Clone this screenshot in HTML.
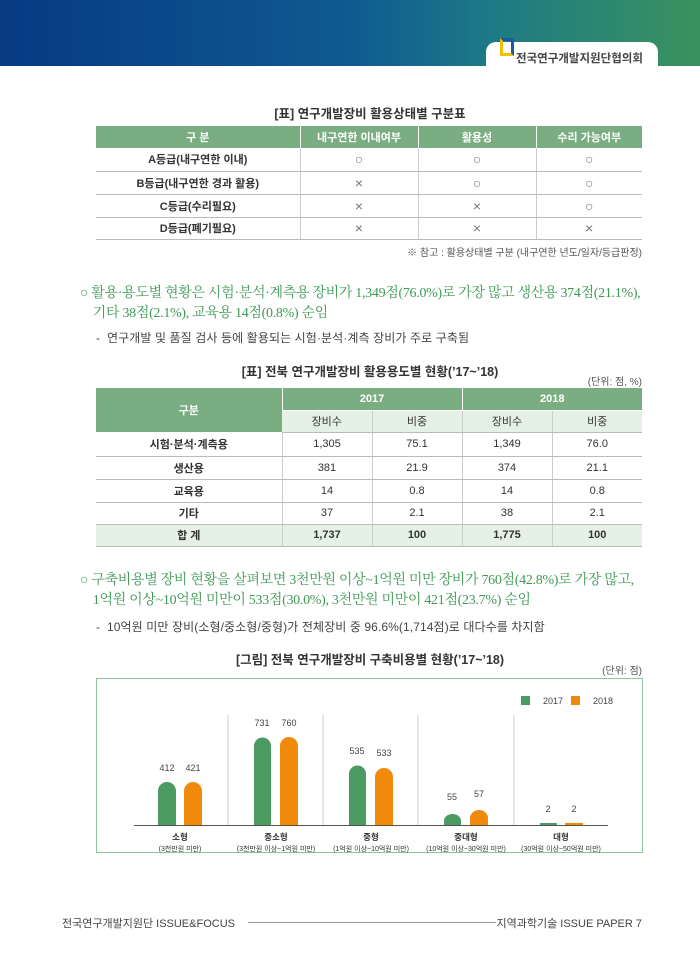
<!DOCTYPE html>
<html><head><meta charset="utf-8"><style>
*{margin:0;padding:0;box-sizing:border-box}
body{width:700px;height:972px;position:relative;background:#fff;font-family:"Liberation Sans","Noto Sans CJK KR",sans-serif;color:#333;overflow:hidden}
.a{position:absolute;white-space:nowrap}
.hdr{position:absolute;left:0;top:0;width:700px;height:66px;background:linear-gradient(90deg,#063a82 0%,#0f5a92 50%,#1d7a86 70%,#3a925e 100%)}
.tab{position:absolute;left:486px;top:42px;width:172px;height:26px;background:#fff;border-radius:10px 10px 0 0}
table{position:absolute;border-collapse:collapse;font-size:11px;text-align:center}
td,th{border-bottom:1px solid #bbb;border-left:1px solid #ccc;padding:0}
td:first-child,th:first-child{border-left:none}
th{background:#7aae82;color:#fff;font-weight:bold;border-left:1px solid #fff;border-bottom:none}
.b{font-weight:bold;color:#333}
.o{font-size:14px;color:#777}
.para{font-family:"Liberation Serif","Noto Serif CJK SC",serif;color:#3f9a55;font-size:14px;line-height:20px;letter-spacing:-0.3px}
.dash{font-size:12px;color:#444;letter-spacing:0.1px}
.cap{font-size:12.5px;font-weight:bold;color:#333}
.sm{font-size:10px;color:#555}
</style></head><body>
<div class="hdr"></div>
<div class="tab"></div>
<div class="a" style="left:500px;top:38px;width:14px;height:18px;border:3px solid #f2c200;border-right-color:#1c5aa6;border-top-color:#1c5aa6"></div>
<div class="a" style="left:516px;top:50px;font-size:11.5px;color:#444;font-weight:bold">전국연구개발지원단협의회</div>

<div class="a cap" style="left:0;width:740px;text-align:center;top:103px">[표] 연구개발장비 활용상태별 구분표</div>
<table style="left:96px;top:126px;width:546px">
<tr style="height:22px"><th style="width:204px">구 분</th><th style="width:118px">내구연한 이내여부</th><th style="width:118px">활용성</th><th style="width:106px">수리 가능여부</th></tr>
<tr style="height:23px"><td class="b">A등급(내구연한 이내)</td><td class="o">○</td><td class="o">○</td><td class="o">○</td></tr>
<tr style="height:23px"><td class="b">B등급(내구연한 경과 활용)</td><td class="o">×</td><td class="o">○</td><td class="o">○</td></tr>
<tr style="height:23px"><td class="b">C등급(수리필요)</td><td class="o">×</td><td class="o">×</td><td class="o">○</td></tr>
<tr style="height:22px"><td class="b">D등급(폐기필요)</td><td class="o">×</td><td class="o">×</td><td class="o">×</td></tr>
</table>
<div class="a sm" style="right:58px;top:244px">※ 참고 : 활용상태별 구분 (내구연한 년도/일자/등급판정)</div>

<div class="a para" style="left:80px;top:284px">○ 활용·용도별 현황은 시험·분석·계측용 장비가 1,349점(76.0%)로 가장 많고 생산용 374점(21.1%),<br>&nbsp;&nbsp;&nbsp;&nbsp;기타 38점(2.1%), 교육용 14점(0.8%) 순임</div>
<div class="a dash" style="left:96px;top:329px">-&nbsp; 연구개발 및 품질 검사 등에 활용되는 시험·분석·계측 장비가 주로 구축됨</div>

<div class="a cap" style="left:0;width:740px;text-align:center;top:361px">[표] 전북 연구개발장비 활용용도별 현황(’17~’18)</div>
<div class="a sm" style="right:58px;top:373px">(단위: 점, %)</div>
<table style="left:96px;top:388px;width:546px">
<tr style="height:22px"><th rowspan="2" style="width:186px">구분</th><th colspan="2" style="border-bottom:1px solid #fff">2017</th><th colspan="2" style="border-bottom:1px solid #fff">2018</th></tr>
<tr style="height:22px"><td style="background:#e6f1e6;width:90px">장비수</td><td style="background:#e6f1e6;width:90px">비중</td><td style="background:#e6f1e6;width:90px">장비수</td><td style="background:#e6f1e6;width:90px">비중</td></tr>
<tr style="height:24px"><td class="b">시험·분석·계측용</td><td>1,305</td><td>75.1</td><td>1,349</td><td>76.0</td></tr>
<tr style="height:23px"><td class="b">생산용</td><td>381</td><td>21.9</td><td>374</td><td>21.1</td></tr>
<tr style="height:23px"><td class="b">교육용</td><td>14</td><td>0.8</td><td>14</td><td>0.8</td></tr>
<tr style="height:22px"><td class="b">기타</td><td>37</td><td>2.1</td><td>38</td><td>2.1</td></tr>
<tr style="height:22px;background:#e6f1e6" class="b"><td>합 계</td><td>1,737</td><td>100</td><td>1,775</td><td>100</td></tr>
</table>

<div class="a para" style="left:80px;top:571px">○ 구축비용별 장비 현황을 살펴보면 3천만원 이상~1억원 미만 장비가 760점(42.8%)로 가장 많고,<br>&nbsp;&nbsp;&nbsp;&nbsp;1억원 이상~10억원 미만이 533점(30.0%), 3천만원 미만이 421점(23.7%) 순임</div>
<div class="a dash" style="left:96px;top:618px">-&nbsp; 10억원 미만 장비(소형/중소형/중형)가 전체장비 중 96.6%(1,714점)로 대다수를 차지함</div>

<div class="a cap" style="left:0;width:740px;text-align:center;top:649px">[그림] 전북 연구개발장비 구축비용별 현황(’17~’18)</div>
<div class="a sm" style="right:58px;top:662px">(단위: 점)</div>

<svg class="a" style="left:96px;top:678px" width="547" height="175" viewBox="96 678 547 175">
<rect x="96.5" y="678.5" width="546" height="174" fill="#fff" stroke="#8cc79a"/>
<g stroke="#ccc"><line x1="228" y1="715" x2="228" y2="825"/><line x1="323" y1="715" x2="323" y2="825"/><line x1="418" y1="715" x2="418" y2="825"/><line x1="514" y1="715" x2="514" y2="825"/></g>
<g fill="#4a9a62">
<path d="M158 825V791a9 9 0 0 1 18 0V825z"/>
<path d="M254 825V746a8.5 8.5 0 0 1 17 0V825z"/>
<path d="M349 825V774a8.5 8.5 0 0 1 17 0V825z"/>
<path d="M444 825V821a8.5 7 0 0 1 17 0V825z"/>
<rect x="540" y="823" width="17" height="2"/>
<rect x="521" y="696" width="9" height="9"/>
</g>
<g fill="#f08a0c">
<path d="M184 825V791a9 9 0 0 1 18 0V825z"/>
<path d="M280 825V746a9 9 0 0 1 18 0V825z"/>
<path d="M375 825V777a9 9 0 0 1 18 0V825z"/>
<path d="M470 825V818a9 8 0 0 1 18 0V825z"/>
<rect x="565" y="823" width="18" height="2"/>
<rect x="571" y="696" width="9" height="9"/>
</g>
<line x1="134" y1="825.5" x2="608" y2="825.5" stroke="#555"/>
<g font-size="9" fill="#444" text-anchor="middle" font-family="Liberation Sans,sans-serif">
<text x="167" y="771">412</text><text x="193" y="771">421</text>
<text x="262" y="726">731</text><text x="289" y="726">760</text>
<text x="357" y="754">535</text><text x="384" y="756">533</text>
<text x="452" y="800">55</text><text x="479" y="797">57</text>
<text x="548" y="812">2</text><text x="574" y="812">2</text>
<text x="543" y="704" text-anchor="start">2017</text><text x="593" y="704" text-anchor="start">2018</text>
</g>
<g font-size="8.5" fill="#333" text-anchor="middle" font-family="Liberation Sans,Noto Sans CJK KR,sans-serif">
<text x="180" y="840" font-weight="bold">소형</text><text x="180" y="851" font-size="7">(3천만원 미만)</text>
<text x="276" y="840" font-weight="bold">중소형</text><text x="276" y="851" font-size="7">(3천만원 이상~1억원 미만)</text>
<text x="371" y="840" font-weight="bold">중형</text><text x="371" y="851" font-size="7">(1억원 이상~10억원 미만)</text>
<text x="466" y="840" font-weight="bold">중대형</text><text x="466" y="851" font-size="7">(10억원 이상~30억원 미만)</text>
<text x="561" y="840" font-weight="bold">대형</text><text x="561" y="851" font-size="7">(30억원 이상~50억원 미만)</text>
</g>
</svg>

<div class="a" style="left:62px;top:915px;font-size:11px;color:#444">전국연구개발지원단 ISSUE&amp;FOCUS</div>
<div class="a" style="left:248px;top:922px;width:248px;border-top:1px solid #999"></div>
<div class="a" style="right:58px;top:915px;font-size:11px;color:#444">지역과학기술 ISSUE PAPER 7</div>
</body></html>
